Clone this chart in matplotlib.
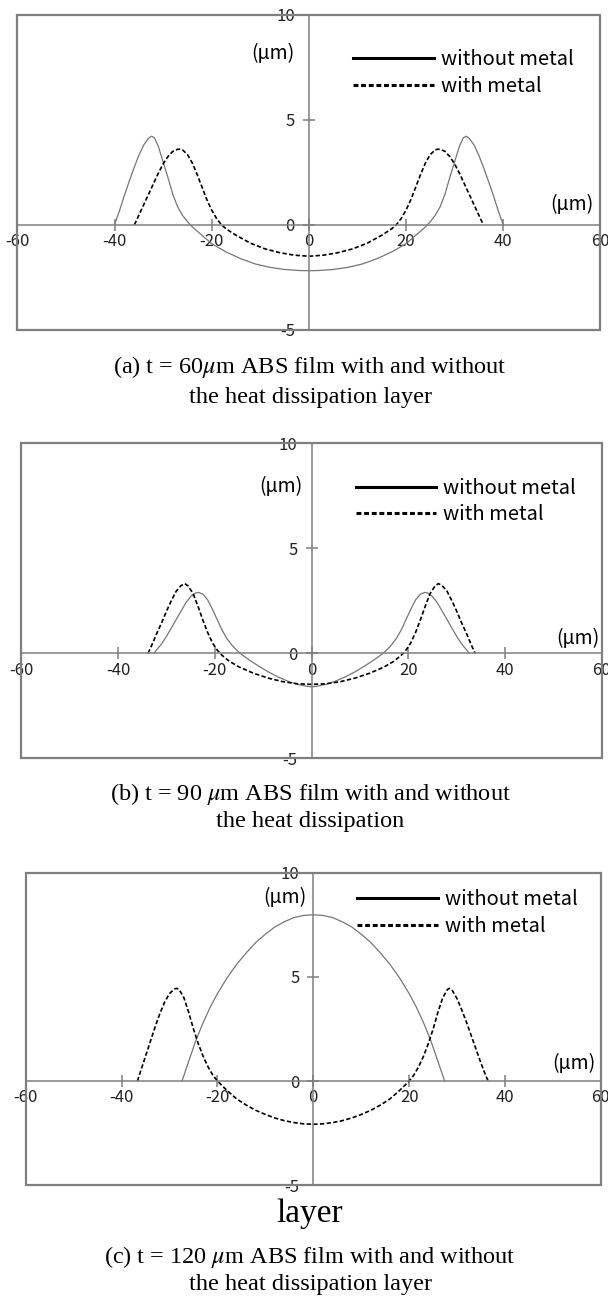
import matplotlib.pyplot as plt
from matplotlib.lines import Line2D
from matplotlib.patches import Rectangle

plt.rcParams['font.family'] = ['Noto Sans CJK KR', 'DejaVu Sans']
plt.rcParams['axes.unicode_minus'] = False
plt.rcParams['mathtext.fontset'] = 'stix'

x_ticks = [-60, -40, -20, 0, 20, 40, 60]
y_ticks = [-5, 0, 5, 10]
series_labels = ['without metal', 'with metal']
unit_label = '(μm)'

# (a) t = 60 um
a_without_x = [-40, -39, -38, -37, -36, -35, -34, -33, -32.4, -31.8, -31, -30, -29, -28, -27, -26, -25, -24,
               -22, -20, -17, -14, -11, -8, -5, -2, 0, 2, 5, 8, 11, 14, 17, 20, 22, 24, 25, 26, 27, 28,
               29, 30, 31, 31.8, 32.4, 33, 34, 35, 36, 37, 38, 39, 40]
a_without_y = [0, 0.65, 1.38, 2.05, 2.7, 3.3, 3.8, 4.12, 4.22, 4.15, 3.75, 3.0, 2.25, 1.45, 0.85, 0.45, 0.15, -0.1,
               -0.5, -0.9, -1.3, -1.62, -1.87, -2.03, -2.13, -2.18, -2.19, -2.18, -2.13, -2.03, -1.87, -1.62, -1.3, -0.9, -0.5, -0.1, 0.15, 0.45, 0.85, 1.45,
               2.25, 3.0, 3.75, 4.15, 4.22, 4.12, 3.8, 3.3, 2.7, 2.05, 1.38, 0.65, 0]
a_with_x = [-35.9, -35, -34, -33, -32, -31, -30, -29, -28, -27, -26.5, -26, -25, -24, -23, -22, -21, -20, -19, -18,
            -17, -15, -12, -9, -6, -3, 0, 3, 6, 9, 12, 15, 17, 18, 19, 20, 21, 22, 23, 24, 25, 26, 26.5, 27,
            28, 29, 30, 31, 32, 33, 34, 35, 35.9]
a_with_y = [0, 0.45, 0.95, 1.45, 1.95, 2.45, 2.9, 3.25, 3.5, 3.6, 3.6, 3.57, 3.35, 2.95, 2.4, 1.8, 1.2, 0.7, 0.3, 0.0,
            -0.2, -0.5, -0.88, -1.15, -1.33, -1.45, -1.5, -1.45, -1.33, -1.15, -0.88, -0.5, -0.2, 0.0, 0.3, 0.7, 1.2, 1.8, 2.4, 2.95, 3.35, 3.57, 3.6, 3.6,
            3.5, 3.25, 2.9, 2.45, 1.95, 1.45, 0.95, 0.45, 0]

# (b) t = 90 um
b_without_x = [-32.6, -31, -30, -29, -28, -27, -26, -25, -24, -23.4, -22.5, -21.5, -20.5, -19.5, -18.5, -17.5, -16.5,
               -15.5, -14.5, -13, -11, -9, -7, -5, -3, -1, 0, 1, 3, 5, 7, 9, 11, 13, 14.5, 15.5, 16.5, 17.5,
               18.5, 19.5, 20.5, 21.5, 22.5, 23.4, 24, 25, 26, 27, 28, 29, 30, 31, 32.6]
b_without_y = [0, 0.45, 0.8, 1.2, 1.6, 2.0, 2.4, 2.7, 2.87, 2.9, 2.82, 2.55, 2.1, 1.6, 1.1, 0.7, 0.4,
               0.15, -0.05, -0.3, -0.6, -0.88, -1.12, -1.32, -1.48, -1.57, -1.6, -1.57, -1.48, -1.32, -1.12, -0.88, -0.6, -0.3, -0.05, 0.15, 0.4, 0.7,
               1.1, 1.6, 2.1, 2.55, 2.82, 2.9, 2.87, 2.7, 2.4, 2.0, 1.6, 1.2, 0.8, 0.45, 0]
b_with_x = [-33.8, -33, -32, -31, -30, -29, -28, -27, -26.2, -25.5, -24.5, -23.5, -22.5, -21.5, -20.5, -19.5, -18.5,
            -17, -15, -12, -9, -6, -3, 0, 3, 6, 9, 12, 15, 17, 18.5, 19.5, 20.5, 21.5, 22.5, 23.5, 24.5,
            25.5, 26.2, 27, 28, 29, 30, 31, 32, 33, 33.8]
b_with_y = [0, 0.4, 0.95, 1.45, 2.0, 2.5, 2.95, 3.22, 3.32, 3.2, 2.85, 2.25, 1.6, 1.0, 0.5, 0.15, -0.1,
            -0.38, -0.65, -0.95, -1.18, -1.35, -1.45, -1.48, -1.45, -1.35, -1.18, -0.95, -0.65, -0.38, -0.1, 0.15, 0.5, 1.0, 1.6, 2.25, 2.85,
            3.2, 3.32, 3.22, 2.95, 2.5, 2.0, 1.45, 0.95, 0.4, 0]

# (c) t = 120 um
c_without_x = [-27.4, -26, -24.5, -23, -21.5, -20, -18, -16, -14, -12, -10, -8, -6, -4, -2, 0,
               2, 4, 6, 8, 10, 12, 14, 16, 18, 20, 21.5, 23, 24.5, 26, 27.4]
c_without_y = [0, 0.95, 1.95, 2.8, 3.55, 4.2, 4.95, 5.6, 6.15, 6.65, 7.05, 7.4, 7.65, 7.85, 7.95, 7.98,
               7.95, 7.85, 7.65, 7.4, 7.05, 6.65, 6.15, 5.6, 4.95, 4.2, 3.55, 2.8, 1.95, 0.95, 0]
c_with_x = [-36.7, -36, -35, -34, -33, -32, -31, -30, -29, -28.5, -28, -27, -26, -25, -24, -23, -22, -21, -20,
            -18, -16, -14, -12, -10, -8, -6, -4, -2, 0, 2, 4, 6, 8, 10, 12, 14, 16, 18, 20, 21, 22, 23,
            24, 25, 26, 27, 28, 28.4, 29, 30, 31, 32, 33, 34, 35, 36, 36.5]
c_with_y = [0, 0.5, 1.2, 1.9, 2.6, 3.25, 3.8, 4.2, 4.42, 4.45, 4.4, 4.0, 3.3, 2.5, 1.8, 1.2, 0.7, 0.3, 0.0,
            -0.45, -0.85, -1.15, -1.4, -1.6, -1.77, -1.9, -1.99, -2.05, -2.07, -2.05, -1.99, -1.9, -1.77, -1.6, -1.4, -1.15, -0.85, -0.45, 0.0, 0.3, 0.7, 1.2,
            1.8, 2.5, 3.3, 4.0, 4.4, 4.45, 4.35, 3.95, 3.4, 2.8, 2.15, 1.5, 0.85, 0.25, 0]

captions = [
    ('(a) t = 60$\\mu$m ABS film with and without', 'the heat dissipation layer'),
    ('(b) t = 90 $\\mu$m ABS film with and without', 'the heat dissipation'),
    ('(c) t = 120 $\\mu$m ABS film with and without', 'the heat dissipation layer'),
]

AXIS_GREY = '#7f7f7f'
DASH = (0, (2.6, 1.4))


def draw_panel(ax, without, with_, ylab_pos, xlab_pos, legend_top):
    ax.set_xlim(-60, 60)
    ax.set_ylim(-5, 10)

    ax.plot(without[0], without[1], color='#767676', lw=0.9)
    ax.plot(with_[0], with_[1], color='black', lw=1.2, linestyle=DASH)

    # cross axes through the origin, box drawn separately
    for side in ['left', 'bottom']:
        ax.spines[side].set_position(('data', 0))
        ax.spines[side].set_color(AXIS_GREY)
        ax.spines[side].set_linewidth(1.1)
    ax.spines['top'].set_visible(False)
    ax.spines['right'].set_visible(False)
    ax.add_patch(Rectangle((0, 0), 1, 1, transform=ax.transAxes, fill=False,
                           edgecolor=AXIS_GREY, lw=1.6, clip_on=False, zorder=3))

    ax.set_xticks(x_ticks)
    ax.set_yticks(y_ticks)
    ax.tick_params(axis='both', direction='inout', length=8, width=1.1,
                   color=AXIS_GREY, labelsize=12, labelcolor='#222222')
    ax.tick_params(axis='x', pad=2)
    ax.tick_params(axis='y', pad=6)

    ax.text(ylab_pos[0], ylab_pos[1], unit_label, transform=ax.transAxes,
            ha='center', va='center', fontsize=14)
    ax.text(xlab_pos[0], xlab_pos[1], unit_label, ha='center', va='center', fontsize=14)

    handles = [Line2D([], [], color='black', lw=2.2),
               Line2D([], [], color='black', lw=2.2, linestyle=(0, (1.6, 0.9)))]
    ax.legend(handles, series_labels, loc='upper left', bbox_to_anchor=(0.576, legend_top),
              frameon=False, fontsize=14.5, handlelength=4.0, handletextpad=0.35,
              labelspacing=0.29, borderpad=0, borderaxespad=0)


fig = plt.figure(figsize=(6.08, 13.0), dpi=100)

ax_a = fig.add_axes([0.0285, 0.7464, 0.959, 0.2421])
draw_panel(ax_a, (a_without_x, a_without_y), (a_with_x, a_with_y),
           (0.439, 0.878), (54.2, 0.95), 0.891)

ax_b = fig.add_axes([0.035, 0.4167, 0.955, 0.2423])
draw_panel(ax_b, (b_without_x, b_without_y), (b_with_x, b_with_y),
           (0.447, 0.862), (55.0, 0.71), 0.891)

ax_c = fig.add_axes([0.0423, 0.0882, 0.946, 0.2405])
draw_panel(ax_c, (c_without_x, c_without_y), (c_with_x, c_with_y),
           (0.451, 0.921), (54.4, 0.85), 0.948)

serif = dict(family='Liberation Serif', ha='center', va='center', fontsize=17.5)
fig.text(0.51, 0.7177, captions[0][0], **serif)
fig.text(0.51, 0.6946, captions[0][1], **serif)
fig.text(0.51, 0.3895, captions[1][0], **serif)
fig.text(0.51, 0.3680, captions[1][1], **serif)
fig.text(0.51, 0.0662, 'layer', family='Liberation Serif', ha='center', va='center', fontsize=24)
fig.text(0.51, 0.0331, captions[2][0], **serif)
fig.text(0.51, 0.0123, captions[2][1], **serif)

fig.savefig('out.png', dpi=100)
